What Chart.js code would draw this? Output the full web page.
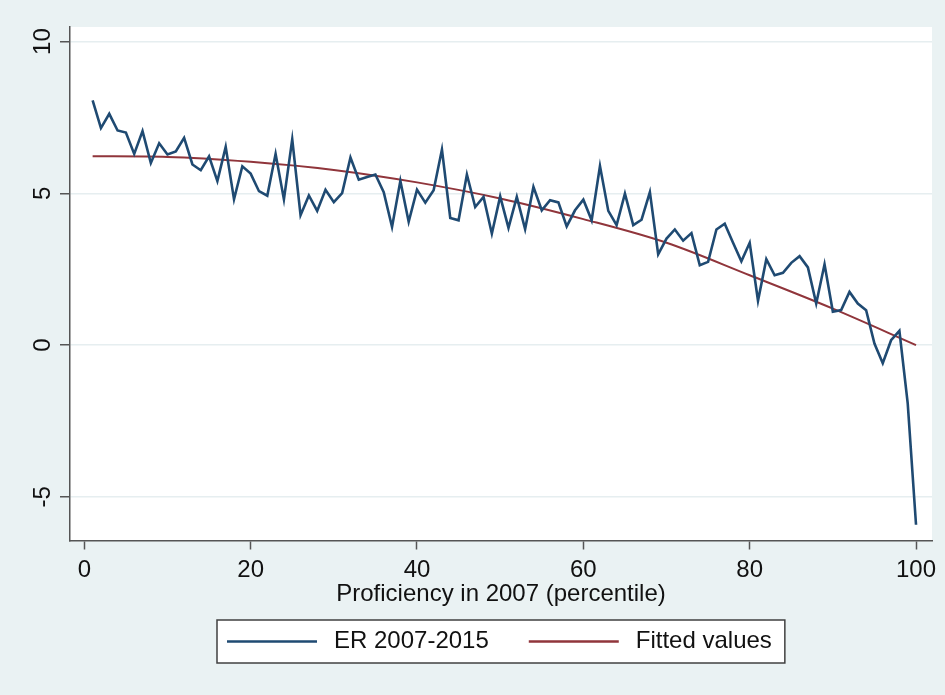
<!DOCTYPE html>
<html>
<head>
<meta charset="utf-8">
<title>ER 2007-2015 by proficiency percentile</title>
<script src="https://cdn.jsdelivr.net/npm/chart.js@4.4.1/dist/chart.umd.min.js"></script>
<style>
  html, body { margin: 0; padding: 0; background: #eaf2f3; }
  canvas { display: block; }
</style>
</head>
<body>
<canvas id="chart" width="945" height="695"></canvas>
<script>
// percentile of proficiency in 2007
const percentiles = [
  1, 2, 3, 4, 5, 6, 7, 8, 9, 10,
  11, 12, 13, 14, 15, 16, 17, 18, 19, 20,
  21, 22, 23, 24, 25, 26, 27, 28, 29, 30,
  31, 32, 33, 34, 35, 36, 37, 38, 39, 40,
  41, 42, 43, 44, 45, 46, 47, 48, 49, 50,
  51, 52, 53, 54, 55, 56, 57, 58, 59, 60,
  61, 62, 63, 64, 65, 66, 67, 68, 69, 70,
  71, 72, 73, 74, 75, 76, 77, 78, 79, 80,
  81, 82, 83, 84, 85, 86, 87, 88, 89, 90,
  91, 92, 93, 94, 95, 96, 97, 98, 99, 100
];

// ER 2007-2015
const erValues = [
  8.06, 7.15, 7.62, 7.07, 7.00, 6.30, 7.05, 6.00, 6.65, 6.28,
  6.38, 6.83, 5.95, 5.76, 6.22, 5.40, 6.53, 4.80, 5.89, 5.65,
  5.07, 4.92, 6.30, 4.80, 6.78, 4.28, 4.93, 4.42, 5.12, 4.71,
  5.01, 6.18, 5.45, 5.54, 5.62, 5.04, 3.89, 5.41, 4.06, 5.12,
  4.69, 5.10, 6.44, 4.19, 4.11, 5.62, 4.55, 4.88, 3.67, 4.90,
  3.86, 4.88, 3.82, 5.21, 4.44, 4.77, 4.70, 3.91, 4.44, 4.79,
  4.11, 5.90, 4.42, 3.95, 4.99, 3.95, 4.13, 5.04, 2.99, 3.51,
  3.81, 3.44, 3.69, 2.63, 2.74, 3.81, 4.00, 3.37, 2.76, 3.37,
  1.46, 2.83, 2.30, 2.38, 2.71, 2.93, 2.56, 1.37, 2.66, 1.10,
  1.15, 1.75, 1.37, 1.15, 0.05, -0.60, 0.16, 0.47, -1.92, -5.92
];

// fitted values, read at a few percentiles along the red curve
const fittedX = [1, 10, 20, 30, 40, 50, 60, 70, 80, 90, 100];
const fittedValues = [6.22, 6.20, 6.04, 5.77, 5.36, 4.83, 4.15, 3.37, 2.30, 1.20, 0.00];

const xTicks = [0, 20, 40, 60, 80, 100];
const yTicks = [-5, 0, 5, 10];

const seriesLabels = ['ER 2007-2015', 'Fitted values'];
const xTitle = 'Proficiency in 2007 (percentile)';

const FONT = '"Liberation Sans", Arial, Helvetica, sans-serif';
Chart.defaults.font.family = FONT;
Chart.defaults.font.size = 24;
Chart.defaults.color = '#111111';

// light blue-gray page, white plot region
const background = {
  id: 'background',
  beforeDraw(chart) {
    const ctx = chart.ctx;
    const a = chart.chartArea;
    ctx.save();
    ctx.fillStyle = '#eaf2f3';
    ctx.fillRect(0, 0, chart.width, chart.height);
    ctx.fillStyle = '#ffffff';
    ctx.fillRect(a.left, a.top, a.right - a.left, a.bottom - a.top);
    ctx.restore();
  }
};

// boxed legend under the axis title, centred on the plot region
const legendBox = {
  id: 'legendBox',
  afterDraw(chart) {
    const ctx = chart.ctx;
    const a = chart.chartArea;
    const lineLen = 90, gap = 17, between = 40, padL = 10, padR = 13;
    const top = 620, h = 43;
    ctx.save();
    ctx.font = '24px ' + FONT;
    const items = chart.data.datasets.map(function(ds) {
      return { text: ds.label, color: ds.borderColor, width: ctx.measureText(ds.label).width };
    });
    let w = padL + padR + between * (items.length - 1);
    items.forEach(function(it) { w += lineLen + gap + it.width; });
    const left = Math.round((a.left + a.right) / 2 - w / 2);
    ctx.fillStyle = '#ffffff';
    ctx.fillRect(left, top, w, h);
    ctx.strokeStyle = '#404040';
    ctx.lineWidth = 1.5;
    ctx.strokeRect(left, top, w, h);
    const cy = top + h / 2;
    let x = left + padL;
    items.forEach(function(it) {
      ctx.strokeStyle = it.color;
      ctx.lineWidth = 2.5;
      ctx.beginPath();
      ctx.moveTo(x, cy);
      ctx.lineTo(x + lineLen, cy);
      ctx.stroke();
      x += lineLen + gap;
      ctx.fillStyle = '#111111';
      ctx.textAlign = 'left';
      ctx.textBaseline = 'middle';
      ctx.fillText(it.text, x, cy);
      x += it.width + between;
    });
    ctx.restore();
  }
};

const ctx = document.getElementById('chart').getContext('2d');
const chart = new Chart(ctx, {
  type: 'line',
  data: {
    datasets: [{
      label: seriesLabels[0],
      data: percentiles.map(function(p, i) { return { x: p, y: erValues[i] }; }),
      borderColor: '#1f4a72',
      borderWidth: 2.6,
      pointRadius: 0,
      tension: 0,
      fill: false
    }, {
      label: seriesLabels[1],
      data: fittedX.map(function(p, i) { return { x: p, y: fittedValues[i] }; }),
      borderColor: '#90353b',
      borderWidth: 2,
      pointRadius: 0,
      cubicInterpolationMode: 'monotone',
      fill: false
    }]
  },
  options: {
    responsive: false,
    animation: false,
    devicePixelRatio: 1,
    layout: {
      padding: { left: 0, top: 27, right: 13, bottom: 84.5 }
    },
    plugins: {
      legend: { display: false },
      tooltip: { enabled: false }
    },
    scales: {
      x: {
        type: 'linear',
        min: -1.72,
        max: 101.92,
        afterBuildTicks: function(axis) {
          axis.ticks = xTicks.map(function(v) { return { value: v }; });
        },
        afterFit: function(axis) { axis.height = 70; },
        grid: {
          drawOnChartArea: false,
          drawTicks: true,
          tickLength: 9,
          tickColor: '#555555',
          tickWidth: 1.5
        },
        border: { color: '#555555', width: 1.5 },
        ticks: {
          padding: 6,
          maxRotation: 0,
          autoSkip: false,
          font: { size: 24 },
          color: '#111111'
        },
        title: {
          display: true,
          text: xTitle,
          font: { size: 24 },
          color: '#111111',
          padding: { top: 0, bottom: 2 }
        }
      },
      y: {
        type: 'linear',
        min: -6.44,
        max: 10.48,
        afterBuildTicks: function(axis) {
          axis.ticks = yTicks.map(function(v) { return { value: v }; });
        },
        afterFit: function(axis) { axis.width = 70; },
        grid: {
          color: '#e6eef0',
          lineWidth: 1.5,
          drawTicks: true,
          tickLength: 10,
          tickColor: '#555555',
          tickWidth: 1.5
        },
        border: { color: '#555555', width: 1.5 },
        ticks: {
          padding: 3,
          minRotation: 90,
          maxRotation: 90,
          crossAlign: 'center',
          autoSkip: false,
          font: { size: 24 },
          color: '#111111'
        }
      }
    }
  },
  plugins: [background, legendBox]
});
</script>
</body>
</html>
